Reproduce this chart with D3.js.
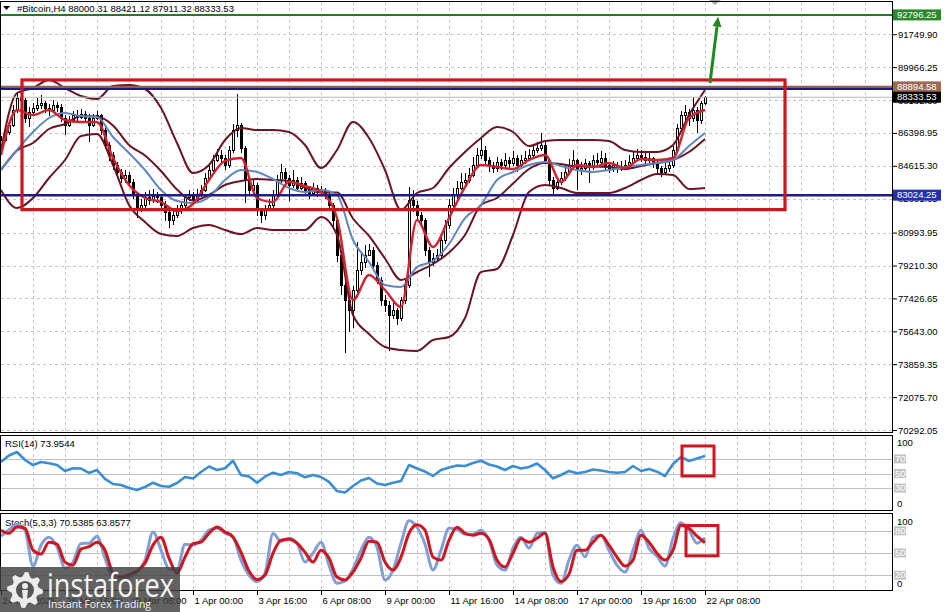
<!DOCTYPE html>
<html><head><meta charset="utf-8">
<script src="https://cdnjs.cloudflare.com/ajax/libs/d3/7.8.5/d3.min.js"></script>
<style>
html,body{margin:0;padding:0;background:#fff;}
svg{display:block;}
text{font-family:"Liberation Sans",Arial,sans-serif;font-size:9.5px;fill:#000;}
</style></head><body>
<svg id="chart" width="944" height="612"></svg>
<script>
// ---------------- DATA ----------------
const symbolTitle = "#Bitcoin,H4  88000.31 88421.12 87911.32 88333.53";
const rsiTitle = "RSI(14) 73.9544";
const stochTitle = "Stoch(5,3,3) 70.5385 63.8577";
const startTime = Date.UTC(2025, 2, 24, 0, 0);   // first bar 24 Mar 2025 00:00
const barHours = 4;                               // H4

const opens = [85700,86014,86448,86827,87640,88291,88183,87207,87532,87749,
 87912,88020,87749,87640,87912,87803,87207,86827,87098,87369,
 87261,87423,87207,86827,87207,87369,86556,85743,85201,84659,
 84279,83954,84116,83737,83032,82327,82490,82870,82761,82978,
 82870,82490,82110,81677,81948,82219,82490,82870,83032,82761,
 83032,83303,83954,84388,84930,85201,85038,84659,85472,86556,
 86827,85580,83845,83303,83574,82219,81948,82327,82490,83032,
 83845,84279,83954,83574,83845,83412,83683,83303,83141,83412,
 83195,83303,83032,82490,81677,79779,78153,77340,76797,77882,
 78966,79400,79779,80050,79237,78424,77340,77068,76526,76797,
 76364,77340,78153,82761,82490,81948,81677,80050,79400,79617,
 79779,80592,81406,82490,83032,83412,83737,83845,84116,84659,
 85201,85472,84930,84659,84496,84821,84659,84930,84767,85038,
 84659,84930,85038,85201,85472,85580,85743,84930,83845,83412,
 83737,83954,84279,84659,84930,84388,84496,84767,84550,84930,
 84821,85038,84659,84496,84659,84496,84604,84659,84821,85038,
 85201,85092,84930,85038,84767,84496,84279,84496,84659,85472,
 86665,87369,87532,87207,87640,87098,88000.31];
const highs = [86250,86700,87100,87900,88600,88780,88300,87800,88000,88300,
 88450,88150,87950,88200,88100,87950,87350,87300,87600,87650,
 87700,87600,87400,87450,87600,87450,86700,85900,85350,84800,
 84450,84400,84300,83900,83200,82800,83200,83300,83350,83200,
 83000,82700,82300,82200,82500,82700,83100,83300,83200,83350,
 83600,84200,84700,85200,85500,85450,85200,85700,86900,88500,
 86950,85700,84000,83900,83700,82300,82500,82800,83300,84100,
 84700,84500,84100,84400,84000,84000,83800,83500,83700,83600,
 83500,83400,83150,82600,81800,79900,78400,77600,78100,80500,
 79900,80300,80400,80200,79400,78600,77600,77300,77200,76900,
 77500,78400,83450,83300,82700,82100,81800,80200,79900,80100,
 80900,81700,82800,83400,83800,84200,84200,84500,85100,85600,
 86200,85700,85100,84800,85100,85000,85300,85100,85400,85200,
 85200,85400,85500,85800,85900,86400,85900,85000,84000,84000,
 84300,84700,85000,85450,85000,84800,85000,84900,85200,85300,
 85400,85300,84800,84900,84800,84900,84950,85200,85400,85500,
 85450,85300,85350,85100,84900,84600,84800,84900,85700,86900,
 87600,87900,87700,88350,87800,88150,88421.12];
const lows = [85500,85900,86300,86700,87500,87950,86950,86700,87300,87600,
 87700,87500,87300,87500,87550,87000,86300,86700,86950,87050,
 87150,87000,85900,86700,87100,86300,85500,84900,84400,84000,
 83700,83700,83500,82800,81800,82100,82300,82500,82600,82600,
 82200,81600,81250,81400,81800,82000,82300,82700,82500,82600,
 82900,83200,83800,84200,84800,84700,84400,84500,85300,86200,
 85300,82600,83000,83200,81900,81500,81700,82200,82300,82900,
 83700,83600,82700,83400,83200,83300,83000,82800,83000,82900,
 83000,82800,82200,81300,79400,77600,74470,75600,75800,77700,
 78700,79100,79700,78900,78200,77000,76700,74600,76300,76000,
 76200,77100,78000,82100,81700,81300,79700,78600,79200,79400,
 79600,80400,81200,82300,82800,83300,83500,83700,84000,84500,
 85000,84700,84300,84200,84300,84400,84500,84500,84600,84300,
 84500,84700,84900,85000,85300,85400,84700,83500,83100,83300,
 83600,83800,84100,84500,83300,84100,84300,83700,84400,84600,
 84700,84400,84200,84300,84250,84350,84400,84500,84700,84900,
 84800,84700,84750,84500,84200,84000,84100,84300,84500,85300,
 86500,86900,86800,87000,86400,86900,87911.32];
const closes = [86014,86448,86827,87640,88291,88183,87207,87532,87749,87912,
 88020,87749,87640,87912,87803,87207,86827,87098,87369,87261,
 87423,87207,86827,87207,87369,86556,85743,85201,84659,84279,
 83954,84116,83737,83032,82327,82490,82870,82761,82978,82870,
 82490,82110,81677,81948,82219,82490,82870,83032,82761,83032,
 83303,83954,84388,84930,85201,85038,84659,85472,86556,86827,
 85580,83845,83303,83574,82219,81948,82327,82490,83032,83845,
 84279,83954,83574,83845,83412,83683,83303,83141,83412,83195,
 83303,83032,82490,81677,79779,78153,77340,76797,77882,78966,
 79400,79779,80050,79237,78424,77340,77068,76526,76797,76364,
 77340,78153,82761,82490,81948,81677,80050,79400,79617,79779,
 80592,81406,82490,83032,83412,83737,83845,84116,84659,85201,
 85472,84930,84659,84496,84821,84659,84930,84767,85038,84659,
 84930,85038,85201,85472,85580,85743,84930,83845,83412,83737,
 83954,84279,84659,84930,84388,84496,84767,84550,84930,84821,
 85038,84659,84496,84659,84496,84604,84659,84821,85038,85201,
 85092,84930,85038,84767,84496,84279,84496,84659,85472,86665,
 87369,87532,87207,87640,87098,88000.31,88333.53];

// indicator lines of the price window, one value every 4 bars
const lineStepBars = 4;
const bbUpper = [85472,88563,88834,89267,88834,88400,88237,88942,88996,88779,
 87749,85852,84225,84659,86014,86665,86556,86556,86448,85743,
 84496,85472,86990,86123,84388,82219,83141,83412,84496,85364,
 86123,86719,86448,85689,85960,86014,86014,86014,85960,85472,
 85364,85364,85743,87370,88725];
const bbMiddle = [84388,85446,85852,86611,86882,87316,87289,86801,85743,85174,
 84334,83331,82734,83033,83575,83792,83900,83846,83792,83439,
 83168,83168,81759,80810,79590,78424,78858,79292,79915,80864,
 82491,82870,83656,84442,84768,84713,84578,84578,84551,84442,
 84605,84768,84930,85364,86069];
const bbLower = [83304,82328,82870,83954,84930,86231,86340,84659,82490,81569,
 80918,80810,81243,81406,81135,80918,81243,81135,81135,81135,
 81839,80864,76527,75497,74791,74629,74575,75171,75334,76364,
 78858,79021,80864,83195,83575,83412,83141,83141,83141,83412,
 83846,84171,84117,83358,83412];
const maFast = [85201,87641,87370,87641,87099,86990,86990,85038,83575,82870,
 82653,82165,82544,83846,84876,85038,82870,82653,83737,83520,
 83195,81785,77340,78695,77882,76960,81677,80214,81785,83466,
 84659,84550,84442,84930,85201,83737,84659,84550,84767,84496,
 84984,84930,85038,87207,87641];
const maSlow = [84388,85472,86448,87207,87478,87315,87261,86177,85310,84388,
 83304,82707,82599,82924,83846,84388,84280,83900,83412,83195,
 83304,83032,80593,79400,78153,78044,79129,79454,80376,81785,
 82490,83846,84280,84659,84821,84605,84388,84280,84388,84550,
 84659,84767,84930,85689,86394];

// oscillators, one value every 2 bars
const oscStepBars = 2;
const rsi = [65.8,74.7,79.5,68.5,61.6,65.8,64.0,61.6,53.4,57.1,
 56.8,50.7,54.8,42.5,35.6,34.2,30.1,27.4,31.5,37.4,
 32.9,31.9,37.0,45.2,43.2,52.1,59.6,54.8,57.1,67.5,
 47.9,45.9,37.4,45.6,51.1,47.9,52.1,50.3,44.8,47.9,
 45.2,38.4,26.0,24.0,32.9,40.4,43.8,36.3,34.2,37.4,
 39.7,61.6,56.8,52.7,46.6,54.8,58.2,61.0,60.3,64.4,
 67.5,62.3,59.6,54.8,60.3,56.8,58.9,63.7,54.8,43.4,
 47.9,53.4,50.3,52.1,55.5,54.1,52.1,51.1,52.1,60.3,
 53.4,56.2,52.5,46.6,63.0,72.6,67.1,70.5,73.95];
const stochK = [72.7,81.4,88.8,80.8,32.3,60.6,71.3,58.3,29.6,37.7,
 62.9,63.3,72.7,43.1,16.2,13.5,17.5,24.2,40.4,78.5,
 53.8,28.3,26.9,61.9,60.6,67.3,80.8,83.4,76.7,71.3,
 40.4,20.2,11.4,22.9,76.3,65.9,70.0,63.3,37.7,49.8,
 64.6,33.6,9.0,12.1,28.3,53.8,71.3,57.9,13.5,26.9,
 63.3,93.5,84.8,61.9,26.9,53.8,83.4,82.1,75.4,75.4,
 80.8,67.3,33.6,26.9,56.5,71.3,56.5,76.3,78.1,20.2,
 9.0,40.4,60.6,44.8,71.3,74.0,53.8,33.6,24.2,53.8,
 80.8,56.5,45.8,32.3,70.0,90.8,80.8,63.3,70.54];
const stochD = [80.8,76.7,85.2,83.4,53.8,48.5,64.6,61.9,37.7,33.6,
 55.2,58.5,64.6,53.8,22.9,17.5,20.9,25.6,36.3,60.6,
 71.3,43.1,22.9,44.4,62.6,64.6,76.7,85.2,78.5,71.7,
 51.1,25.6,14.1,20.2,49.8,67.3,68.6,63.3,51.1,37.7,
 53.8,43.1,17.5,13.5,24.2,43.1,65.9,64.6,37.7,26.9,
 44.4,76.7,88.2,80.8,44.4,40.4,67.3,84.8,76.7,74.0,
 76.7,68.6,40.4,31.0,49.8,69.3,64.6,70.0,76.7,31.0,
 11.4,21.5,53.8,53.8,64.6,74.0,60.6,44.4,32.3,40.4,
 74.0,64.6,49.8,40.4,53.8,87.5,83.4,72.7,63.86];

// axes
const priceTicks = [91749.90,89966.25,88182.60,86398.95,84615.30,82831.65,80993.95,79210.30,77426.65,75643.00,73859.35,72075.70,70292.05];
const priceTickLabels = ["91749.90","89966.25","88182.60","86398.95","84615.30","82831.65","80993.95","79210.30","77426.65","75643.00","73859.35","72075.70","70292.05"];
const timeTickBars = [0,16,32,48,64,80,96,112,128,144,160,176];
const timeTickLabels = ["24 Mar 2025","26 Mar 16:00","29 Mar 08:00","1 Apr 00:00","3 Apr 16:00","6 Apr 08:00","9 Apr 00:00","11 Apr 16:00","14 Apr 08:00","17 Apr 00:00","19 Apr 16:00","22 Apr 08:00"];
const rsiLevels = [70, 50, 30];
const stochLevels = [80, 50, 20];

// chart objects (price levels, trend box, arrow)
const levelLines = [
  {price: 92796.25, label: "92796.25", color: "#237a23", bg: "#2a8a2a", w: 2},
  {price: 88894.58, label: "88894.58", color: "#8e5e4a", bg: "#9c6a53", w: 2.5},
  {price: 88780.00, label: null,       color: "#1b1b78", bg: null,      w: 2},
  {price: 83024.25, label: "83024.25", color: "#1c1c8a", bg: "#2130b0", w: 2.5}
];
const bidPrice = 88333.53;
const bidLabel = "88333.53";
const trendBox = {fromBar: 5.25, toBar: 196, top: 89270, bottom: 82240};
const rsiBox = {fromBar: 170.25, toBar: 178.25, top: 87.7, bottom: 46.6};
const stochBox = {fromBar: 171.25, toBar: 179.25, top: 87.1, bottom: 46.2};
const arrow = {fromBar: 177.25, fromPrice: 89105, toBar: 179.3, toPrice: 92700};

// ---------------- DRAWING ----------------
const HOUR = 3600e3;
const barTime = i => new Date(startTime + i * barHours * HOUR);
const x = d3.scaleTime().domain([new Date(startTime), new Date(startTime + 892 * HOUR)]).range([1, 893]);
const y = d3.scaleLinear().domain([70292.05, 91749.90]).range([430, 34.21]);
const yR = d3.scaleLinear().domain([0, 100]).range([510, 437]);
const yS = d3.scaleLinear().domain([0, 100]).range([590, 516]);

const svg = d3.select("#chart");
svg.append("rect").attr("width", 944).attr("height", 612).attr("fill", "#fff");
const defs = svg.append("defs");
function clip(id, x0, y0, w, h) {
  defs.append("clipPath").attr("id", id).append("rect").attr("x", x0).attr("y", y0).attr("width", w).attr("height", h);
}
clip("cMain", 1, 2, 892, 430); clip("cRsi", 1, 436, 892, 74); clip("cSto", 1, 514, 892, 76);

const gridColor = "#c6c6c6";
const vBars = d3.range(8, 224, 8);
function vgrid(y0, y1) {
  svg.append("g").selectAll("line").data(vBars).join("line")
    .attr("x1", d => x(barTime(d)) + 0.5).attr("x2", d => x(barTime(d)) + 0.5)
    .attr("y1", y0).attr("y2", y1)
    .attr("stroke", gridColor).attr("stroke-dasharray", "3,3");
}
vgrid(2, 432); vgrid(436, 510); vgrid(514, 590);

svg.append("g").selectAll("line").data(priceTicks).join("line")
  .attr("x1", 1).attr("x2", 893)
  .attr("y1", d => Math.round(y(d)) + 0.5).attr("y2", d => Math.round(y(d)) + 0.5)
  .attr("stroke", gridColor).attr("stroke-dasharray", "3,3");

// oscillator levels
svg.append("g").selectAll("line").data(rsiLevels).join("line")
  .attr("x1", 1).attr("x2", 893).attr("y1", d => Math.round(yR(d)) + 0.5).attr("y2", d => Math.round(yR(d)) + 0.5)
  .attr("stroke", "#c0c0c0");
svg.append("g").selectAll("line").data(stochLevels).join("line")
  .attr("x1", 1).attr("x2", 893).attr("y1", d => Math.round(yS(d)) + 0.5).attr("y2", d => Math.round(yS(d)) + 0.5)
  .attr("stroke", "#c0c0c0");

// titles
svg.append("path").attr("d", "M3,6L10,6L6.5,10Z").attr("fill", "#000");
svg.append("text").attr("x", 17).attr("y", 12).text(symbolTitle);
svg.append("text").attr("x", 5).attr("y", 447).text(rsiTitle);
svg.append("text").attr("x", 5).attr("y", 526).text(stochTitle);

// candles
const bars = d3.range(closes.length).map(i => ({t: barTime(i), o: opens[i], h: highs[i], l: lows[i], c: closes[i]}));
const gC = svg.append("g").attr("clip-path", "url(#cMain)").attr("shape-rendering", "crispEdges");
gC.selectAll("line").data(bars).join("line")
  .attr("x1", d => x(d.t) + 0.5).attr("x2", d => x(d.t) + 0.5)
  .attr("y1", d => y(d.h)).attr("y2", d => y(d.l)).attr("stroke", "#000");
gC.selectAll("rect").data(bars).join("rect")
  .attr("x", d => x(d.t) - 0.5).attr("width", 2)
  .attr("y", d => y(Math.max(d.o, d.c)))
  .attr("height", d => Math.max(1, y(Math.min(d.o, d.c)) - y(Math.max(d.o, d.c))))
  .attr("fill", d => d.c >= d.o ? "#fff" : "#000").attr("stroke", "#000");

// indicator lines on price
function priceLine(values, color, width) {
  const pts = values.map((v, k) => [x(barTime(k * lineStepBars)), y(v)]);
  svg.append("path").attr("clip-path", "url(#cMain)")
    .attr("d", d3.line().curve(d3.curveMonotoneX)(pts))
    .attr("fill", "none").attr("stroke", color).attr("stroke-width", width)
    .attr("stroke-linejoin", "round");
}
priceLine(bbUpper, "#6b1522", 2);
priceLine(bbLower, "#6b1522", 2);
priceLine(bbMiddle, "#6b1522", 2);
priceLine(maSlow, "#5f86c4", 2);
priceLine(maFast, "#d3232e", 2.4);

// level lines
svg.append("line").attr("x1", 1).attr("x2", 893).attr("y1", y(bidPrice)).attr("y2", y(bidPrice)).attr("stroke", "#b8b8b8");
levelLines.forEach(L => {
  svg.append("line").attr("x1", 1).attr("x2", 893).attr("y1", y(L.price)).attr("y2", y(L.price))
    .attr("stroke", L.color).attr("stroke-width", L.w);
});

// trend box
svg.append("rect")
  .attr("x", x(barTime(trendBox.fromBar))).attr("y", y(trendBox.top))
  .attr("width", x(barTime(trendBox.toBar)) - x(barTime(trendBox.fromBar)))
  .attr("height", y(trendBox.bottom) - y(trendBox.top))
  .attr("fill", "none").attr("stroke", "#d1141d").attr("stroke-width", 3.2);

// arrow
(() => {
  const x0 = x(barTime(arrow.fromBar)), y0 = y(arrow.fromPrice);
  const x1 = x(barTime(arrow.toBar)), y1 = y(arrow.toPrice);
  const dx = x1 - x0, dy = y1 - y0, len = Math.hypot(dx, dy), ux = dx / len, uy = dy / len;
  const hl = 10, hw = 4.5;
  const bx = x1 - ux * hl, by = y1 - uy * hl;
  svg.append("line").attr("x1", x0).attr("y1", y0).attr("x2", bx).attr("y2", by)
    .attr("stroke", "#1e8a1e").attr("stroke-width", 3);
  svg.append("path").attr("d", `M${x1},${y1}L${bx - uy * hw},${by + ux * hw}L${bx + uy * hw},${by - ux * hw}Z`)
    .attr("fill", "#1e8a1e");
})();
// chart-shift marker
svg.append("path").attr("d", `M${x(barTime(177))},0L${x(barTime(180))},0L${x(barTime(178.5))},5Z`).attr("fill", "#a8a8a8");

// RSI
const rsiPts = rsi.map((v, k) => [x(barTime(k * oscStepBars)), yR(v)]);
svg.append("path").attr("clip-path", "url(#cRsi)").attr("d", d3.line()(rsiPts))
  .attr("fill", "none").attr("stroke", "#3b8ed3").attr("stroke-width", 2.6).attr("stroke-linejoin", "round");

// Stochastic
const kPts = stochK.map((v, k) => [x(barTime(k * oscStepBars)), yS(v)]);
const dPts = stochD.map((v, k) => [x(barTime(k * oscStepBars)), yS(v)]);
svg.append("path").attr("clip-path", "url(#cSto)").attr("d", d3.line().curve(d3.curveMonotoneX)(kPts))
  .attr("fill", "none").attr("stroke", "#7f9fd6").attr("stroke-width", 3).attr("stroke-linejoin", "round");
svg.append("path").attr("clip-path", "url(#cSto)").attr("d", d3.line().curve(d3.curveMonotoneX)(dPts))
  .attr("fill", "none").attr("stroke", "#d1141d").attr("stroke-width", 3).attr("stroke-linejoin", "round");

// oscillator boxes
[[rsiBox, yR], [stochBox, yS]].forEach(([b, sc]) => {
  svg.append("rect")
    .attr("x", x(barTime(b.fromBar))).attr("y", sc(b.top))
    .attr("width", x(barTime(b.toBar)) - x(barTime(b.fromBar)))
    .attr("height", sc(b.bottom) - sc(b.top))
    .attr("fill", "none").attr("stroke", "#d1141d").attr("stroke-width", 3);
});

// panel frames
[[0.5, 1.5, 892, 431], [0.5, 435.5, 892, 75], [0.5, 513.5, 892, 77]].forEach(r => {
  svg.append("rect").attr("x", r[0]).attr("y", r[1]).attr("width", r[2]).attr("height", r[3])
    .attr("fill", "none").attr("stroke", "#000");
});

// price axis
const gY = svg.append("g").attr("transform", "translate(893,0)")
  .call(d3.axisRight(y).tickValues(priceTicks).tickSize(4).tickPadding(1).tickFormat((d, i) => priceTickLabels[i]));
gY.select(".domain").remove();
gY.attr("font-size", null).attr("font-family", null);
gY.selectAll("line").attr("stroke", "#000");

// coloured price labels
function priceTag(p, label, bg) {
  const yy = y(p);
  svg.append("rect").attr("x", 893).attr("y", yy - 5.5).attr("width", 48).attr("height", 11).attr("fill", bg);
  svg.append("text").attr("x", 897).attr("y", yy).attr("dy", "0.34em").style("fill", "#fff").text(label);
}
levelLines.filter(L => L.label).forEach(L => priceTag(L.price, L.label, L.bg));
priceTag(bidPrice, bidLabel, "#000");

// oscillator scales
function oscLabels(sc, levels) {
  svg.append("text").attr("x", 897).attr("y", sc(100) + 6).attr("dy", "0.34em").text("100");
  svg.append("text").attr("x", 897).attr("y", sc(0) - 6).attr("dy", "0.34em").text("0");
  levels.forEach(v => {
    svg.append("rect").attr("x", 894).attr("y", sc(v) - 4.5).attr("width", 12).attr("height", 9).attr("fill", "#c3c3c3");
    svg.append("text").attr("x", 895).attr("y", sc(v)).attr("dy", "0.34em").style("fill", "#fff").text(v);
  });
}
oscLabels(yR, rsiLevels);
oscLabels(yS, stochLevels);

// time axis
const gX = svg.append("g").attr("transform", "translate(0,591)")
  .call(d3.axisBottom(x).tickValues(timeTickBars.map(barTime)).tickSize(4).tickFormat((d, i) => timeTickLabels[i]));
gX.select(".domain").remove();
gX.attr("font-size", null).attr("font-family", null);
gX.selectAll("line").attr("stroke", "#000");
gX.selectAll("text").attr("text-anchor", "start").attr("x", 1).attr("y", 6);

// watermark
const logo = svg.append("g");
logo.append("rect").attr("x", 0).attr("y", 567).attr("width", 180).attr("height", 45).attr("fill", "#404040").attr("opacity", 0.82);
(() => {
  const cx = 25, cy = 590, n = 8, pts = [];
  for (let k = 0; k < n * 4; k++) {
    const a = (k / (n * 4)) * 2 * Math.PI - Math.PI / 2;
    const r = (k % 4 < 2) ? 18 : 13.5;
    pts.push([cx + r * Math.cos(a), cy + r * Math.sin(a)]);
  }
  logo.append("path").attr("d", d3.line()(pts) + "Z").attr("fill", "#ececec");
  logo.append("circle").attr("cx", cx).attr("cy", cy).attr("r", 9).attr("fill", "#555");
  logo.append("circle").attr("cx", cx).attr("cy", cy - 4).attr("r", 3).attr("fill", "#ececec");
  logo.append("path").attr("d", `M${cx - 3},${cy}L${cx + 3},${cy}L${cx + 2},${cy + 9}L${cx - 2},${cy + 9}Z`).attr("fill", "#ececec");
})();
logo.append("text").attr("x", 47).attr("y", 597).text("instaforex")
  .style("font-family", "'Open Sans',sans-serif").style("font-size", "32px").style("fill", "#f4f4f4")
  .attr("textLength", 127).attr("lengthAdjust", "spacingAndGlyphs");
logo.append("text").attr("x", 48).attr("y", 607.5).text("Instant Forex Trading")
  .style("font-family", "'Open Sans',sans-serif").style("font-size", "11.5px").style("fill", "#f4f4f4")
  .attr("textLength", 103).attr("lengthAdjust", "spacingAndGlyphs");
</script>
</body></html>
